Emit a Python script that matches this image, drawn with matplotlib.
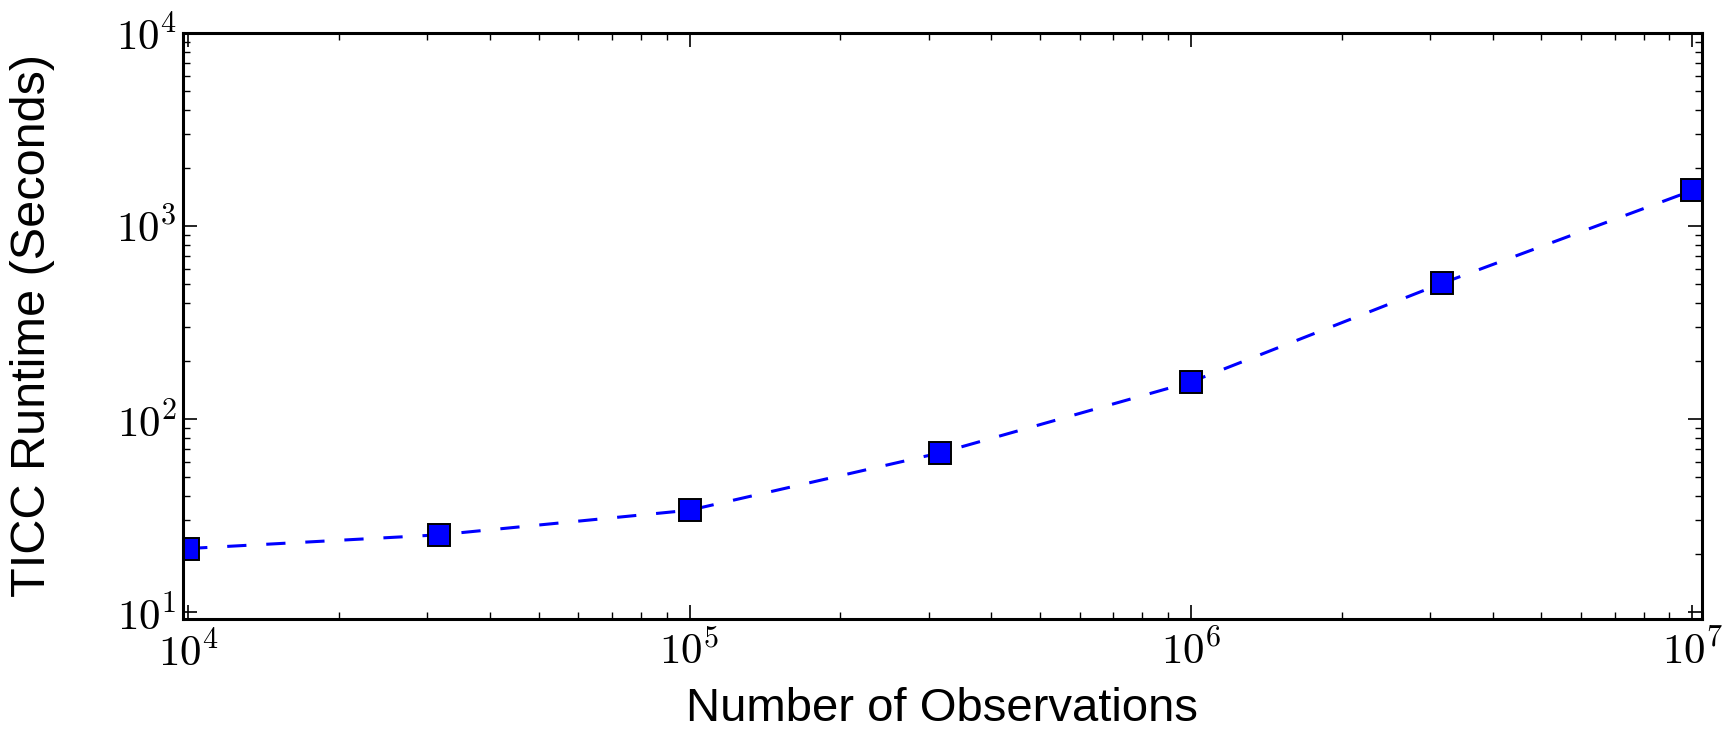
import matplotlib
matplotlib.use("Agg")
import matplotlib.pyplot as plt
from matplotlib.ticker import FuncFormatter
import numpy as np

observations = [1e4, 3.1623e4, 1e5, 3.1623e5, 1e6, 3.1623e6, 1e7]
runtime_seconds = [21.4, 25.2, 33.8, 67.0, 156.0, 505.0, 1530.0]

plt.rcParams['mathtext.fontset'] = 'cm'
plt.rcParams['font.family'] = ['Liberation Sans', 'DejaVu Sans']

fig = plt.figure(figsize=(17.23, 7.35), dpi=100)
ax = fig.add_axes([0.106, 0.158, 0.882, 0.797])

ax.plot(observations, runtime_seconds, linestyle='--', color='#0000ff', linewidth=2.2,
        dashes=(6.3, 6.5), marker='s', markersize=16.5, markerfacecolor='#0000ff',
        markeredgecolor='black', markeredgewidth=1.4)

ax.set_xscale('log')
ax.set_yscale('log')
ax.set_xlim(9750, 1.047e7)
ax.set_ylim(9.25, 1e4)

fmt = FuncFormatter(lambda v, p: r'$10^{%d}$' % int(round(np.log10(v))))
ax.xaxis.set_major_formatter(fmt)
ax.yaxis.set_major_formatter(fmt)

ax.set_xlabel('Number of Observations', fontsize=34, labelpad=9)
ax.set_ylabel('TICC Runtime (Seconds)', fontsize=35, labelpad=44)

ax.tick_params(which='both', direction='in', top=True, right=True, labelsize=31)
ax.tick_params(which='major', length=10, width=1.2, pad=9)
ax.tick_params(which='minor', length=5, width=1.0)
ax.tick_params(axis='y', which='major', pad=4)
for s in ax.spines.values():
    s.set_linewidth(2.2)

fig.savefig('out.png', dpi=100)
